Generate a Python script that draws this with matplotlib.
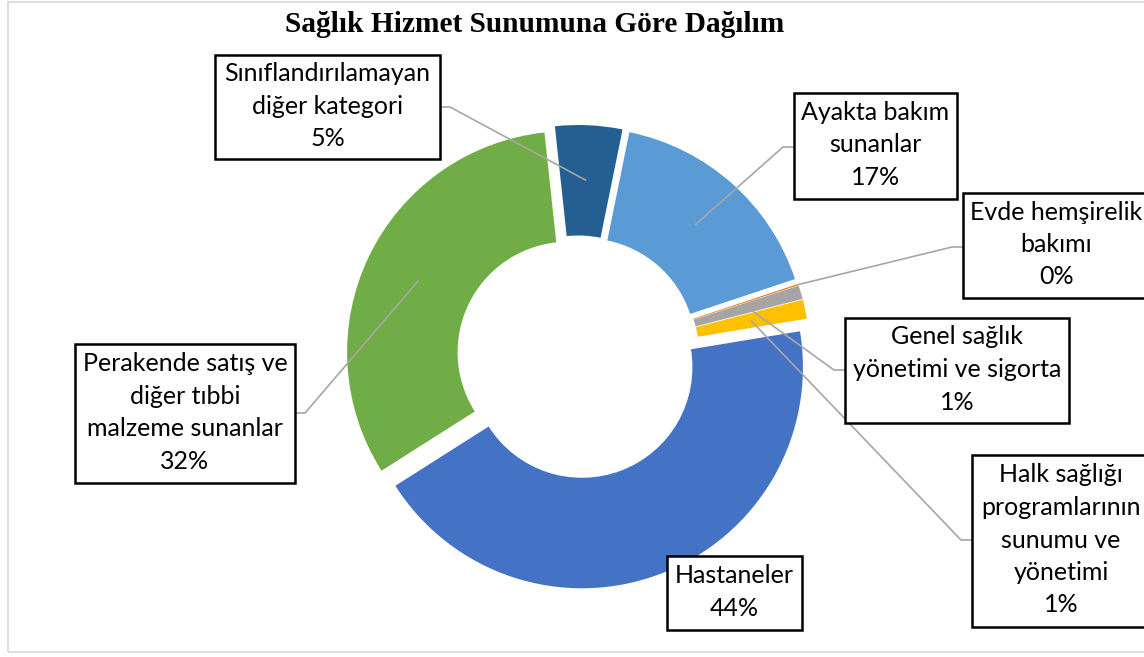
import matplotlib
matplotlib.use("Agg")
import matplotlib.pyplot as plt
from matplotlib.patches import Rectangle
import numpy as np

# data, clockwise from "Ayakta bakım"
categories = [
    "Ayakta bakım\nsunanlar",
    "Evde hemşirelik\nbakımı",
    "Genel sağlık\nyönetimi ve sigorta",
    "Halk sağlığı\nprogramlarının\nsunumu ve\nyönetimi",
    "Hastaneler",
    "Perakende satış ve\ndiğer tıbbi\nmalzeme sunanlar",
    "Sınıflandırılamayan\ndiğer kategori",
]
shares = [16.7, 0.1, 1.0, 1.4, 43.6, 32.3, 4.9]
colors = ["#5B9BD5", "#ED7D31", "#A5A5A5", "#FFC000", "#4472C4", "#70AD47", "#255E91"]

W, H = 1144, 657
fig = plt.figure(figsize=(W / 100, H / 100), dpi=100)
ax = fig.add_axes([0, 0, 1, 1])

cx, cy = 578, H - 357
R = 221
expl = 11
start = 78.5

ax.pie(shares, colors=colors, startangle=start, counterclock=False,
       radius=R, center=(cx, cy), explode=[expl] * len(shares),
       wedgeprops=dict(width=R * 0.5, linewidth=0))
ax.set_xlim(0, W)
ax.set_ylim(0, H)
ax.set_aspect("equal")
ax.axis("off")

# chart frame
ax.add_patch(Rectangle((8, H - 652), 1150, 650, fill=False, ec="#D9D9D9", lw=1.2))

ax.text(535, H - 25, "Sağlık Hizmet Sunumuna Göre Dağılım", ha="center", va="center",
        fontsize=21.2, fontweight="bold", family="Liberation Serif")

# mid angles (degrees, clockwise from top)
fr = np.array(shares) / sum(shares) * 360
ends = np.cumsum(fr)
mids = (90 - start) + ends - fr / 2

# label boxes: (left, top, right, bottom) in px
boxes = [
    (794, 93, 957, 199),
    (963, 193, 1150, 298),
    (845, 318, 1069, 423),
    (972, 455, 1150, 627),
    (667, 556, 802, 630),
    (75, 344, 295, 483),
    (215, 55, 440, 159),
]
anchor_r = [R * 0.75 + expl, R + expl, R * 0.75 + expl, R * 0.75 + expl, None,
            R * 0.75 + expl, R * 0.75 + expl]
stub_y = [147, 247, 370, 540, None, 413, 107]

for i, (lab, v) in enumerate(zip(categories, shares)):
    l, t, r, b = boxes[i]
    ax.add_patch(Rectangle((l, H - b), r - l, b - t, fc="white", ec="black", lw=1.8, zorder=3))
    ax.text((l + r) / 2, H - (t + b) / 2 + 1, f"{lab}\n{round(v):.0f}%", ha="center", va="center",
            fontsize=18, family="Lato", linespacing=1.5, zorder=4)
    if anchor_r[i] is None:
        continue
    a = np.radians(mids[i])
    ax_x = cx + anchor_r[i] * np.sin(a)
    ax_y = cy + anchor_r[i] * np.cos(a)
    if (l + r) / 2 > cx:
        edge, elbow = l, l - 11
    else:
        edge, elbow = r, r + 10
    ys = H - stub_y[i]
    ax.plot([ax_x, elbow, edge], [ax_y, ys, ys], color="#A6A6A6", lw=1.2, zorder=2,
            solid_capstyle="butt")

fig.savefig("out.png", dpi=100)
